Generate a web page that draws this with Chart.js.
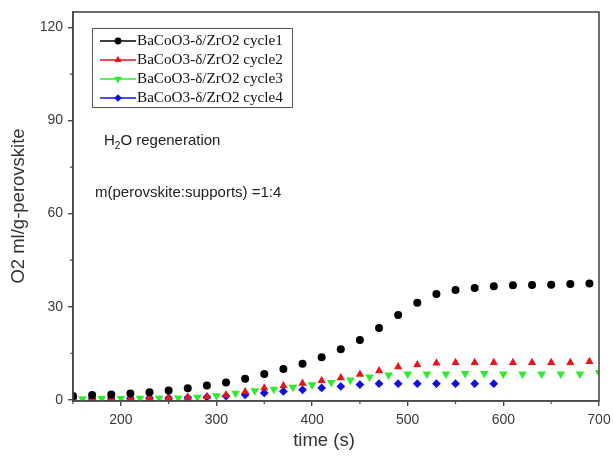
<!DOCTYPE html>
<html><head><meta charset="utf-8">
<script src="https://cdn.jsdelivr.net/npm/chart.js@4.4.0/dist/chart.umd.min.js"></script>
<style>html,body{margin:0;padding:0;background:#fff;}#wrap{width:613px;height:457px;}</style>
</head><body><div id="wrap"><canvas id="c" width="613" height="457"></canvas></div>
<script>
// ---- data ----
const seriesNames = ["BaCoO3-\u03b4/ZrO2 cycle1","BaCoO3-\u03b4/ZrO2 cycle2","BaCoO3-\u03b4/ZrO2 cycle3","BaCoO3-\u03b4/ZrO2 cycle4"];
const times1 = [150,170,190,210,230,250,270,290,310,330,350,370,390,410,430,450,470,490,510,530,550,570,590,610,630,650,670,690];
const cycle1 = [1.2,1.5,1.7,2.0,2.4,3.0,3.7,4.6,5.6,6.8,8.3,9.9,11.6,13.7,16.3,19.3,23.1,27.3,31.3,34.1,35.4,36.0,36.6,36.9,37.0,37.1,37.3,37.5];
const times2 = [150,170,190,210,230,250,270,290,310,330,350,370,390,410,430,450,470,490,510,530,550,570,590,610,630,650,670,690];
const cycle2 = [0.5,0.5,0.6,0.6,0.7,0.7,0.8,1.0,1.6,2.6,3.8,4.5,5.3,6.2,7.1,8.2,9.3,10.6,11.3,11.8,12.0,12.0,12.0,12.0,12.0,12.0,12.0,12.3];
const times3 = [150,160,180,200,220,240,260,280,300,320,340,360,380,400,420,440,460,480,500,520,540,560,580,600,620,640,660,680,700];
const cycle3 = [0.3,0.3,0.4,0.4,0.5,0.5,0.6,0.8,1.3,2.1,2.9,3.4,4.0,4.8,5.6,6.4,7.3,8.0,8.3,8.3,8.3,8.5,8.5,8.3,8.3,8.3,8.3,8.3,8.8];
const times4 = [150,170,190,210,230,250,270,290,310,330,350,370,390,410,430,450,470,490,510,530,550,570,590];
const cycle4 = [0.4,0.4,0.5,0.5,0.6,0.6,0.7,0.9,1.2,1.6,2.2,2.7,3.2,3.8,4.3,4.9,5.2,5.2,5.2,5.2,5.2,5.2,5.2];
const xTicks = [200,300,400,500,600,700];
const xMinor = [150,250,350,450,550,650];
const yTicks = [0,30,60,90,120];
const yMinor = [15,45,75,105];

const colors = ['#000000','#e8141c','#2aee2a','#1010e0'];
const styles = [
  {pointStyle:'circle', rotation:0, radius:4.0},
  {pointStyle:'triangle', rotation:0, radius:4.8},
  {pointStyle:'triangle', rotation:180, radius:5.0},
  {pointStyle:'rectRot', rotation:0, radius:4.4}
];
const timesAll = [times1,times2,times3,times4];
const valuesAll = [cycle1,cycle2,cycle3,cycle4];

const datasets = valuesAll.map((vals,i)=>({
  label: seriesNames[i],
  data: vals.map((v,j)=>({x:timesAll[i][j], y:v})),
  showLine:false,
  backgroundColor: colors[i],
  borderColor: colors[i],
  borderWidth: 0,
  pointStyle: styles[i].pointStyle,
  rotation: styles[i].rotation,
  pointRadius: styles[i].radius,
  pointHoverRadius: styles[i].radius
}));

const AXIS = '#4a4a4a';
const SANS = '"Liberation Sans", Arial, sans-serif';
const SERIF = '"Liberation Serif", "Times New Roman", serif';

const decor = {
  id:'decor',
  afterDraw(chart){
    const ctx = chart.ctx, a = chart.chartArea;
    const xs = chart.scales.x, ys = chart.scales.y;
    ctx.save();
    // frame
    ctx.strokeStyle = AXIS; ctx.lineWidth = 1.6;
    ctx.strokeRect(a.left, a.top, a.right - a.left, a.bottom - a.top);
    // minor ticks
    ctx.lineWidth = 1.2;
    ctx.beginPath();
    xMinor.forEach(v=>{ const p = xs.getPixelForValue(v); ctx.moveTo(p, a.bottom); ctx.lineTo(p, a.bottom+3); });
    yMinor.forEach(v=>{ const p = ys.getPixelForValue(v); ctx.moveTo(a.left, p); ctx.lineTo(a.left-3, p); });
    ctx.stroke();
    // legend
    const lx = 92, ly = 28, lw = 200, lh = 79;
    ctx.lineWidth = 1; ctx.strokeStyle = '#555';
    ctx.strokeRect(lx+0.5, ly+0.5, lw, lh);
    ctx.font = '15.2px ' + SERIF;
    ctx.textBaseline = 'middle'; ctx.textAlign = 'left';
    seriesNames.forEach((name,i)=>{
      const y = 41 + i*19;
      ctx.strokeStyle = colors[i]; ctx.lineWidth = 1.5;
      ctx.beginPath(); ctx.moveTo(100, y); ctx.lineTo(136, y); ctx.stroke();
      ctx.fillStyle = colors[i];
      ctx.strokeStyle = colors[i];
      Chart.helpers.drawPoint(ctx, {pointStyle:styles[i].pointStyle, rotation:styles[i].rotation, radius:styles[i].radius-0.6, borderWidth:0}, 118, y);
      ctx.fillStyle = '#111';
      ctx.fillText(name, 137, y+0.5);
    });
    // annotations
    ctx.fillStyle = '#222';
    ctx.font = '15px ' + SANS;
    let x = 104, y = 141;
    ctx.fillText('H', x, y); x += ctx.measureText('H').width;
    ctx.font = '10px ' + SANS; ctx.fillText('2', x, y+5); x += ctx.measureText('2').width;
    ctx.font = '15px ' + SANS; ctx.fillText('O regeneration', x, y);
    ctx.fillText('m(perovskite:supports) =1:4', 95, 193);
    // axis titles
    ctx.fillStyle = '#333';
    ctx.font = '18.5px ' + SANS;
    ctx.textAlign = 'center';
    ctx.fillText('time (s)', 324, 441);
    ctx.translate(19, 206);
    ctx.rotate(-Math.PI/2);
    ctx.fillText('O2 ml/g-perovskite', 0, 0);
    ctx.restore();
  }
};

new Chart(document.getElementById('c'), {
  type:'scatter',
  data:{datasets},
  plugins:[decor],
  options:{
    responsive:false,
    animation:false,
    layout:{padding:{top:12,right:14,left:0,bottom:0}},
    plugins:{legend:{display:false}, tooltip:{enabled:false}},
    scales:{
      x:{
        type:'linear', min:150, max:700,
        afterBuildTicks:s=>{ s.ticks = xTicks.map(v=>({value:v})); },
        afterFit:s=>{ s.height = 56; s.paddingRight = 0; s.paddingLeft = 0; },
        grid:{drawOnChartArea:false, drawTicks:true, tickLength:5, color:AXIS, lineWidth:1.4},
        border:{display:true, color:AXIS, width:1.6},
        ticks:{color:'#3a3a3a', font:{family:SANS, size:14}, padding:6, maxRotation:0, autoSkip:false}
      },
      y:{
        type:'linear', min:-0.4, max:125,
        afterBuildTicks:s=>{ s.ticks = yTicks.map(v=>({value:v})); },
        afterFit:s=>{ s.width = 73; s.paddingTop = 0; s.paddingBottom = 0; },
        grid:{drawOnChartArea:false, drawTicks:true, tickLength:5, color:AXIS, lineWidth:1.4},
        border:{display:true, color:AXIS, width:1.6},
        ticks:{color:'#3a3a3a', font:{family:SANS, size:14}, padding:5, autoSkip:false}
      }
    }
  }
});
</script>
</body></html>
